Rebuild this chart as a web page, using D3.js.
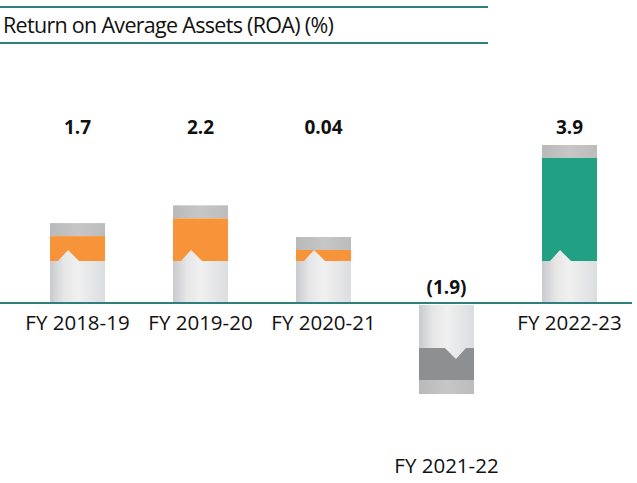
<!DOCTYPE html>
<html>
<head>
<meta charset="utf-8">
<script src="https://cdn.jsdelivr.net/npm/d3@7/dist/d3.min.js"></script>
<style>
  body { margin: 0; background: #fff; }
  text { font-family: 'Open Sans', 'Noto Sans', sans-serif; fill: #111; }
</style>
</head>
<body>
<svg width="637" height="483"></svg>
<script>
// chart data
const categories = ['FY 2018-19', 'FY 2019-20', 'FY 2020-21', 'FY 2021-22', 'FY 2022-23']
const values = [1.7, 2.2, 0.04, -1.9, 3.9]
const valueLabels = ['1.7', '2.2', '0.04', '(1.9)', '3.9']
const title = 'Return on Average Assets (ROA) (%)'

// styles
const fills = ['#f7943a', '#f7943a', '#f7943a', '#8e8f91', '#22a084']
const teal = '#2f7f7c'

const svg = d3.select('svg')
const baseY = 303
const baseH = 42
const capH = 13

const x = d3.scaleBand()
    .domain(categories)
    .range([16, 631])
    .paddingInner(0.553)
    .paddingOuter(0.2765)

// coloured part of each bar
const h = d3.scaleLinear()
    .domain([1.9, 3.9])
    .range([32, 103])
const colH = v => Math.max(11, h(Math.abs(v)))

const defs = svg.append('defs')
const baseGrad = defs.append('linearGradient').attr('id', 'base')
baseGrad.append('stop').attr('offset', '0%').attr('stop-color', '#c9cacc')
baseGrad.append('stop').attr('offset', '25%').attr('stop-color', '#e6e6e7')
baseGrad.append('stop').attr('offset', '50%').attr('stop-color', '#f0f0f0')
baseGrad.append('stop').attr('offset', '100%').attr('stop-color', '#dcdddf')
const capGrad = defs.append('linearGradient').attr('id', 'cap')
capGrad.append('stop').attr('offset', '0%').attr('stop-color', '#b9b9b9')
capGrad.append('stop').attr('offset', '50%').attr('stop-color', '#c6c6c6')
capGrad.append('stop').attr('offset', '100%').attr('stop-color', '#bcbcbc')

// title and rules
svg.append('line').attr('x1', 0).attr('x2', 488).attr('y1', 7).attr('y2', 7)
    .attr('stroke', teal).attr('stroke-width', 2)
svg.append('line').attr('x1', 0).attr('x2', 488).attr('y1', 43).attr('y2', 43)
    .attr('stroke', teal).attr('stroke-width', 2)
svg.append('text')
    .attr('x', 3)
    .attr('y', 33)
    .style('font-size', '21.5px')
    .style('letter-spacing', '-0.7px')
    .text(title)

const bw = x.bandwidth()
const bars = svg.selectAll('g.bar')
  .data(values.map((v, i) => ({ v, i, cat: categories[i] })))
  .join('g')
    .attr('class', 'bar')
    .attr('transform', d => 'translate(' + x(d.cat) + ',0)')

bars.each(function(d) {
  const g = d3.select(this)
  const ch = colH(d.v)
  if (d.v >= 0) {
    const top = baseY - baseH
    g.append('rect').attr('x', 0).attr('width', bw)
        .attr('y', top - ch - capH).attr('height', capH)
        .attr('fill', 'url(#cap)')
    g.append('rect').attr('x', 0).attr('width', bw)
        .attr('y', top - ch).attr('height', ch)
        .attr('fill', fills[d.i])
    g.append('path')
        .attr('d', 'M0,' + baseY + 'V' + top + 'H8L18,' + (top - 11) + 'L29,' + top + 'H' + bw + 'V' + baseY + 'Z')
        .attr('fill', 'url(#base)')
  } else {
    const top = baseY + 2
    const bot = top + baseH + 1
    g.append('rect').attr('x', 0).attr('width', bw)
        .attr('y', bot).attr('height', ch)
        .attr('fill', fills[d.i])
    g.append('rect').attr('x', 0).attr('width', bw)
        .attr('y', bot + ch).attr('height', capH + 1)
        .attr('fill', 'url(#cap)')
    g.append('path')
        .attr('d', 'M0,' + top + 'V' + bot + 'H' + (bw - 29) + 'L' + (bw - 18) + ',' + (bot + 11) + 'L' + (bw - 8) + ',' + bot + 'H' + bw + 'V' + top + 'Z')
        .attr('fill', 'url(#base)')
  }
})

// baseline
svg.append('line').attr('x1', 0).attr('x2', 632).attr('y1', baseY).attr('y2', baseY)
    .attr('stroke', teal).attr('stroke-width', 2)

// value labels
svg.selectAll('text.val')
  .data(values)
  .join('text')
    .attr('class', 'val')
    .attr('x', (v, i) => x(categories[i]) + bw / 2)
    .attr('y', v => v >= 0 ? 134 : 294)
    .attr('text-anchor', 'middle')
    .style('font-size', '19px')
    .style('font-weight', 'bold')
    .text((v, i) => valueLabels[i])

// category labels
svg.selectAll('text.cat')
  .data(values)
  .join('text')
    .attr('class', 'cat')
    .attr('x', (v, i) => x(categories[i]) + bw / 2)
    .attr('y', v => v >= 0 ? 330 : 473)
    .attr('text-anchor', 'middle')
    .style('font-size', '20.5px')
    .text((v, i) => categories[i])
</script>
</body>
</html>
